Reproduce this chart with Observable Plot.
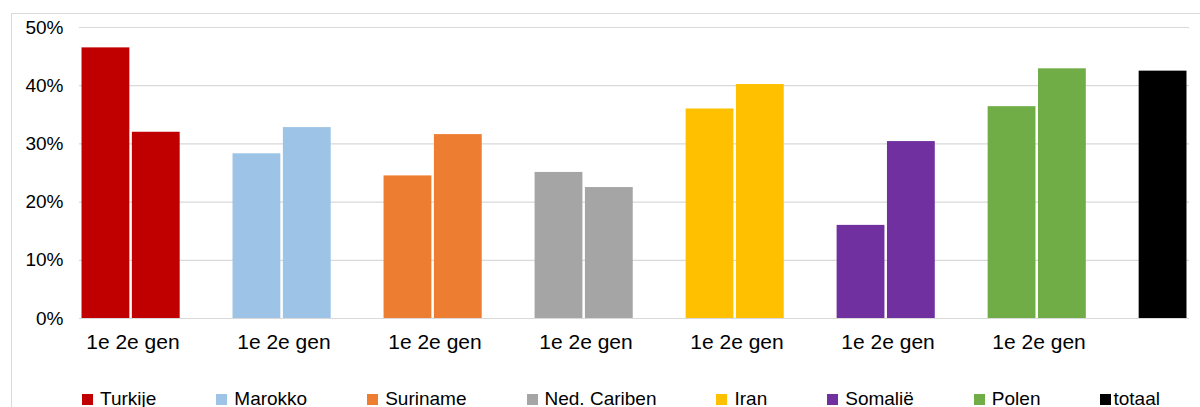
<!DOCTYPE html>
<html>
<head>
<meta charset="utf-8">
<script src="https://cdn.jsdelivr.net/npm/d3@7"></script>
<script src="https://cdn.jsdelivr.net/npm/@observablehq/plot@0.6"></script>
<style>
  html, body { margin: 0; padding: 0; background: #fff; overflow: hidden; width: 1200px; height: 407px; }
  #frame { position: absolute; left: 11px; top: 13px; width: 1400px; height: 600px; border: 1px solid #d9d9d9; box-sizing: border-box; }
  #chart { position: absolute; left: 0; top: 0; }
  #legend { position: absolute; left: 82px; top: 390px; display: flex; gap: 60px; font-family: "Liberation Sans", Arial, sans-serif; font-size: 19px; line-height: 18px; color: #000; white-space: nowrap; }
  .item { display: flex; align-items: center; }
  .sw { width: 11px; height: 11px; margin-right: 7px; }
  .item.tight .sw { margin-right: 2px; }
</style>
</head>
<body>
<div id="frame"></div>
<div id="chart"></div>
<div id="legend"></div>
<script>
// Data
const groups = ["Turkije", "Marokko", "Suriname", "Ned. Cariben", "Iran", "Somalië", "Polen"];
const colors = ["#c00000", "#9dc3e6", "#ed7d31", "#a5a5a5", "#ffc000", "#7030a0", "#70ad47"];
const gen1 = [46.5, 28.3, 24.5, 25.1, 36.0, 16.0, 36.4];
const gen2 = [32.0, 32.8, 31.6, 22.5, 40.2, 30.4, 42.9];
const totalLabel = "totaal";
const totalValue = 42.5;
const totalColor = "#000000";
const genLabel = "1e 2e gen";
const yTicks = [0, 10, 20, 30, 40, 50];

// Build slots
const slots = [];
const rows = [];
groups.forEach((g, i) => {
  slots.push(g + "|1e", g + "|2e", g + "|gap");
  rows.push({slot: g + "|1e", group: g, value: gen1[i]});
  rows.push({slot: g + "|2e", group: g, value: gen2[i]});
});
slots.push(totalLabel + "|t");
rows.push({slot: totalLabel + "|t", group: totalLabel, value: totalValue});

const allGroups = [...groups, totalLabel];
const allColors = [...colors, totalColor];

const plot = Plot.plot({
  width: 1200,
  height: 370,
  marginLeft: 79,
  marginRight: 11,
  marginTop: 27,
  marginBottom: 52,
  style: {fontFamily: '"Liberation Sans", Arial, sans-serif', background: "transparent"},
  x: {domain: slots, padding: 0.05, round: false, axis: null},
  y: {domain: [0, 50], ticks: yTicks, axis: null},
  color: {domain: allGroups, range: allColors},
  marks: [
    Plot.ruleY(yTicks, {stroke: "#d9d9d9", strokeWidth: 1.2}),
    Plot.barY(rows, {x: "slot", y: "value", fill: "group"}),
    Plot.text(yTicks, {
      y: d => d, text: d => d + "%",
      frameAnchor: "left", textAnchor: "end", dx: -16, fontSize: 19, fill: "#000"
    }),
    Plot.text(groups, {
      x: d => d + "|1e", y: () => 0, text: () => genLabel,
      textAnchor: "middle", dx: 27, dy: 24, fontSize: 21, fill: "#000"
    })
  ]
});
document.getElementById("chart").appendChild(plot);

// Legend
const legend = document.getElementById("legend");
allGroups.forEach((g, i) => {
  const item = document.createElement("div");
  item.className = "item" + (g === totalLabel ? " tight" : "");
  const sw = document.createElement("span");
  sw.className = "sw";
  sw.style.background = allColors[i];
  const t = document.createElement("span");
  t.textContent = g;
  item.appendChild(sw);
  item.appendChild(t);
  legend.appendChild(item);
});
</script>
</body>
</html>
